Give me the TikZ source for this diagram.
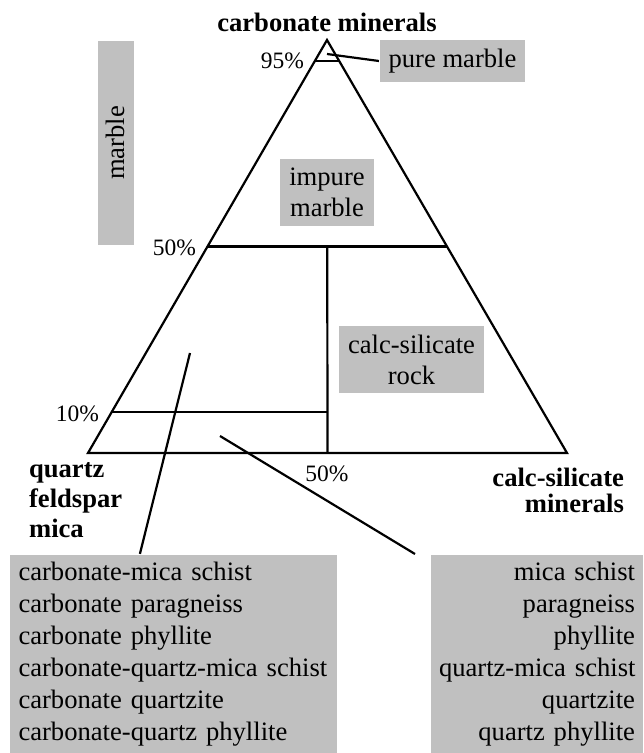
\documentclass[tikz,border=0pt]{standalone}
\usepackage{fontspec}
\setmainfont{Liberation Serif}
\usetikzlibrary{calc}
\definecolor{boxgrey}{RGB}{192,192,192}

\begin{document}
\begin{tikzpicture}[x=.5pt,y=-.5pt, line width=1.1pt,
  every node/.style={font=\fontsize{13.3}{16}\selectfont, inner sep=0pt},
  greybox/.style={fill=boxgrey},
  pct/.style={font=\fontsize{11.75}{14}\selectfont, anchor=east},
  endlabel/.style={font=\fontsize{13.3}{15}\selectfont\bfseries}]
  \useasboundingbox (0,0) rectangle (643,753);
  % triangle
  \coordinate (top) at (327,40);
  \coordinate (qfm) at (88,453);
  \coordinate (csm) at (567,453);
  \draw (top) -- (qfm) -- (csm) -- cycle;
  \coordinate (l95) at ($(top)!.05!(qfm)$); \coordinate (r95) at ($(top)!.05!(csm)$);
  \coordinate (l50) at ($(top)!.5!(qfm)$);  \coordinate (r50) at ($(top)!.5!(csm)$);
  \coordinate (l10) at ($(qfm)!.1!(top)$);
  \coordinate (b50) at ($(qfm)!.5!(csm)$);
  \draw (l95) -- (r95);
  \draw (l50) -- (r50);
  \draw ($(l50)!.5!(r50)$) -- (b50);
  \draw (l10) -- (b50 |- l10);
  % corner and percent labels
  \node[endlabel] (carb) at (327,22) {carbonate minerals};
  \node[endlabel, anchor=west, align=left] (quartz) at (28,500) {quartz\\feldspar\\mica};
  \node[endlabel, font=\fontsize{13.3}{13}\selectfont\bfseries, anchor=east, align=right] (calcmin) at (625,490) {calc-silicate\\minerals};
  \node[pct] (p95) at (305,61) {95\%};
  \node[pct] (p50) at (197,248) {50\%};
  \node[pct] (p10) at (100,414) {10\%};
  \node[pct, anchor=center] (b50lab) at (327,474) {50\%};
  % grey boxes
  \node[greybox, minimum width=72.5pt, minimum height=21pt] (pure) at (452.5,61) {pure marble};
  \node[greybox, rotate=90, minimum width=102pt, minimum height=18.25pt] (marble) at (115.75,143) {marble};
  \node[greybox, minimum width=47pt, minimum height=33.5pt, align=center, font=\fontsize{13.3}{15.5}\selectfont] (impure) at (327,192.5) {impure\\marble};
  \node[greybox, minimum width=72.5pt, minimum height=33.5pt, align=center, font=\fontsize{13.3}{15.5}\selectfont] (calcrock) at (411.5,359.5) {calc-silicate\\rock};
  \node[greybox, minimum height=99pt, text width=155pt, inner xsep=4.25pt, align=left] (listL) at (173.5,654)
    {carbonate-mica schist\\carbonate paragneiss\\carbonate phyllite\\\mbox{carbonate-quartz-mica schist}\\carbonate quartzite\\\mbox{carbonate-quartz phyllite}};
  \node[greybox, minimum height=99pt, text width=98pt, inner xsep=4pt, align=right] (listR) at (537,654)
    {mica schist\\paragneiss\\phyllite\\\mbox{quartz-mica schist}\\quartzite\\quartz phyllite};
  % leaders
  \coordinate (pickpure) at (327,54);
  \coordinate (pickL) at (190,353);
  \coordinate (pickR) at (220,436);
  \coordinate (endR) at (415,554);
  \draw (pickpure) -- (pure.west);
  \draw (pickL) -- ($(listL.north west)+(131,0)$);
  \draw (pickR) -- (endR);
\end{tikzpicture}
\end{document}
